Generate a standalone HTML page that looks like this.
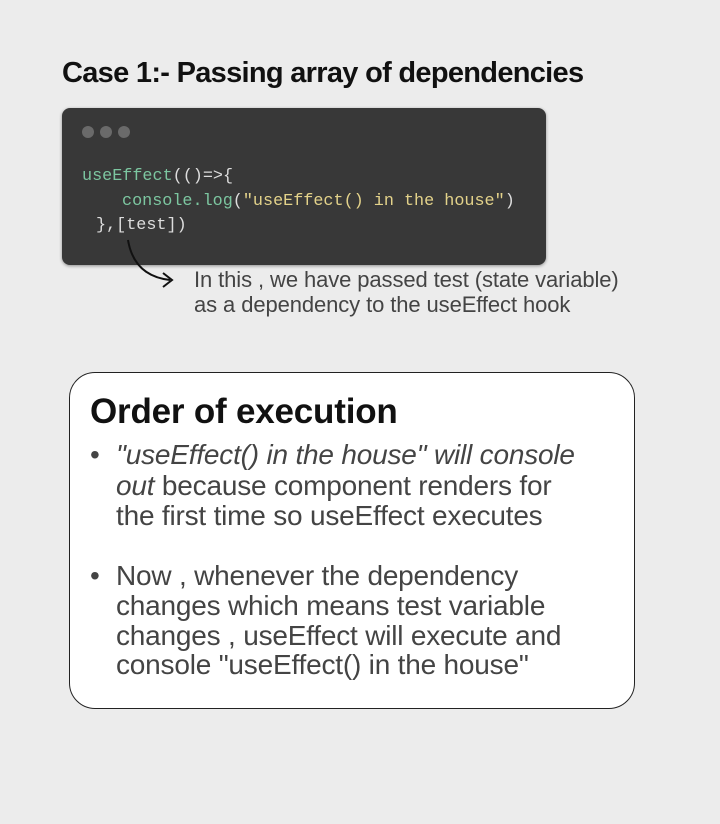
<!DOCTYPE html>
<html><head><style>
body{margin:0;width:720px;height:824px;background:#ececec;position:relative;overflow:hidden;font-family:"Liberation Sans",sans-serif}
.a{position:absolute;white-space:nowrap}
.t{font-weight:bold;font-size:29px;color:#111;letter-spacing:-0.7px;left:62px;top:57px}
.code{position:absolute;left:62px;top:108px;width:484px;height:157px;background:#383838;border-radius:8px;box-shadow:0 1px 3px rgba(0,0,0,.4)}
.dot{position:absolute;top:126px;width:12px;height:12px;border-radius:50%;background:#6a6a6a}
.m{font-family:"Liberation Mono",monospace;font-size:16.8px}
.n{font-size:22px;color:#444;letter-spacing:-0.1px}
.box{position:absolute;left:69px;top:372px;width:566px;height:337px;background:#fff;border:1.5px solid #222;border-radius:26px;box-sizing:border-box}
.h{font-weight:bold;font-size:35px;color:#111;letter-spacing:-0.2px;left:90px;top:392px}
.b{font-size:28px;color:#444;letter-spacing:-0.2px}
</style></head><body>
<div class="a t">Case 1:- Passing array of dependencies</div>
<div class="code"></div>
<div class="dot" style="left:82px"></div><div class="dot" style="left:100px"></div><div class="dot" style="left:118px"></div>
<div class="a m" style="left:82px;top:167px;color:#7cc6a0">useEffect<span style="color:#ddd">(()=&gt;{</span></div>
<div class="a m" style="left:122px;top:192px;color:#7cc6a0">console.log<span style="color:#ddd">(</span><span style="color:#e3d28a">"useEffect() in the house"</span><span style="color:#ddd">)</span></div>
<div class="a m" style="left:96px;top:216px;color:#ddd">},[test])</div>
<svg class="a" style="left:0;top:0" width="720" height="824"><path d="M128 240 Q134 276 170 280" fill="none" stroke="#111" stroke-width="2"/><path d="M163 273 L172 280 L163 287" fill="none" stroke="#111" stroke-width="2"/></svg>
<div class="a n" style="left:194px;top:267px">In this , we have passed test (state variable)</div>
<div class="a n" style="left:194px;top:292px">as a dependency to the useEffect hook</div>
<div class="box"></div>
<div class="a h">Order of execution</div>
<div class="a b" style="left:90px;top:439px">•</div>
<div class="a b" style="left:116px;top:439px"><i>"useEffect() in the house" will console</i></div>
<div class="a b" style="left:116px;top:470px"><i>out</i> because component renders for</div>
<div class="a b" style="left:116px;top:500px">the first time so useEffect executes</div>
<div class="a b" style="left:90px;top:560px">•</div>
<div class="a b" style="left:116px;top:560px">Now , whenever the dependency</div>
<div class="a b" style="left:116px;top:590px">changes which means test variable</div>
<div class="a b" style="left:116px;top:620px">changes , useEffect will execute and</div>
<div class="a b" style="left:116px;top:649px">console "useEffect() in the house"</div>
</body></html>
